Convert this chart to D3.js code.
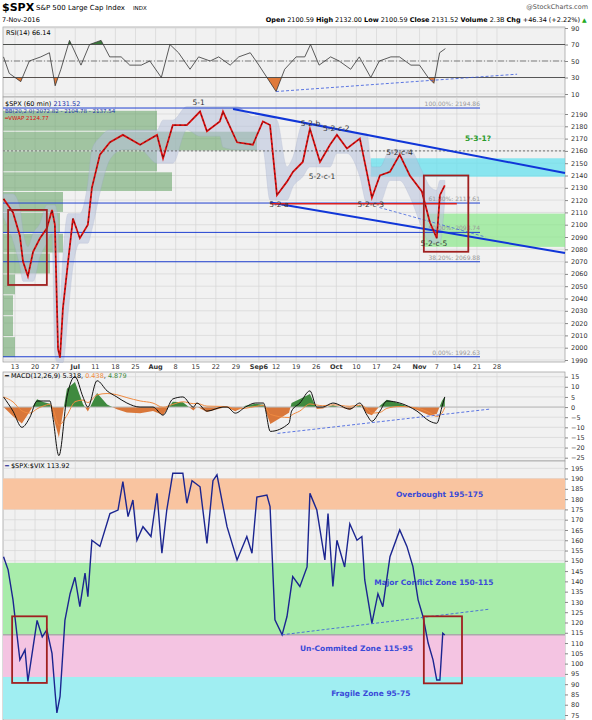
<!DOCTYPE html>
<html>
<head>
<meta charset="utf-8">
<script src="https://cdn.jsdelivr.net/npm/d3@7"></script>
<style>
  body { margin: 0; background: #fff; font-family: "DejaVu Sans", sans-serif; }
  text { font-family: "DejaVu Sans", sans-serif; }
</style>
</head>
<body>
<div id="chart"></div>
<script>
// x positions are calendar days counted from Mon 13-Jun-2016
const tickDays = [0, 7, 14, 21, 28, 35, 42, 49, 56, 63, 70, 77, 85, 91, 98, 105, 112, 119, 126, 133, 141, 147, 154, 161, 168];
const tickLabels = ["13", "20", "27", "Jul", "11", "18", "25", "Aug", "8", "15", "22", "29", "Sep6", "12", "19", "26", "Oct", "10", "17", "24", "Nov", "7", "14", "21", "28"];

// RSI(14)
const rsiDay = [-4, -2, 2, 5, 9, 12, 14, 16, 19, 23, 26, 30, 33, 37, 40, 44, 47, 51, 54, 57, 61, 64, 68, 71, 75, 78, 82, 85, 91, 94, 98, 101, 103, 106, 110, 113, 117, 120, 124, 127, 131, 134, 138, 141, 144, 146, 148, 150];
const rsiVal = [55, 35, 25, 50, 55, 60, 20, 40, 75, 45, 70, 75, 55, 55, 45, 45, 50, 30, 70, 60, 40, 55, 50, 55, 45, 55, 60, 45, 13, 40, 55, 55, 70, 45, 55, 50, 40, 55, 30, 50, 55, 55, 45, 45, 30, 23, 60, 65];

// $SPX 60 min
const spxDay = [-4, -0.7, 1.7, 2.8, 4.5, 6.3, 8.7, 11.1, 12.9, 13.9, 15, 15.7, 16.7, 18.5, 20.2, 22.6, 25.4, 26.8, 29.6, 33.1, 37.6, 43.6, 49.5, 51.6, 55, 59.9, 64.5, 66.9, 71.4, 72.5, 77.4, 82.9, 86.4, 88.9, 91.3, 94.8, 96.9, 100.3, 102.8, 106.3, 109.8, 112.2, 115.7, 120.2, 122.6, 124.4, 127.2, 130.7, 134.1, 137.6, 141.8, 144.6, 147, 148.1, 149.8];
const spxVal = [2121, 2110, 2091, 2070, 2058, 2078, 2089, 2097, 2112, 2100, 1999, 1992, 2032, 2070, 2105, 2089, 2100, 2130, 2157, 2167, 2173, 2165, 2173, 2154, 2181, 2181, 2192, 2176, 2184, 2192, 2167, 2165, 2184, 2181, 2124, 2135, 2143, 2151, 2178, 2151, 2165, 2173, 2162, 2170, 2143, 2122, 2140, 2143, 2157, 2140, 2127, 2102, 2089, 2124, 2132];

// volume by price: bucket low, bucket high, relative volume
const vbpLow = [2176, 2160, 2143, 2127, 2110, 2093, 2077, 2060, 2043, 2026, 2009, 1992];
const vbpHigh = [2193, 2176, 2160, 2143, 2127, 2110, 2093, 2077, 2060, 2043, 2026, 2009];
const vbpVol = [154, 254, 154, 169, 60, 57, 60, 47, 12, 10, 10, 12];

// Fibonacci retracement levels
const fibLevels = [2194.86, 2117.61, 2093.74, 2069.88, 1992.63];
const fibLabels = ["100.00%: 2194.86", "61.80%: 2117.61", "50.00%: 2093.74", "38.20%: 2069.88", "0.00%: 1992.63"];

// wave labels
const waveNames = ["5-1", "5-2-b", "5-2-c-2", "5-2-c-1", "5-2-a", "5-2-c-3", "5-2-c-4", "5-2-c-5"];
const waveDays = [64, 103, 112, 107, 92, 124, 134, 146];
const wavePrice = [2197, 2180, 2176, 2137, 2114, 2114, 2157, 2083];

// MACD(12,26,9)
const macdDay = [-4, -0.7, 2.4, 5.2, 7.7, 9.8, 12.2, 13.2, 15.3, 18.1, 20.9, 23.7, 25.4, 28.6, 32.1, 35.5, 39, 43.6, 48.1, 51.6, 55, 58.5, 62.2, 63.4, 66.9, 72.5, 73.9, 76.8, 80.3, 83.8, 86.6, 89, 95.5, 96.4, 99.3, 102.8, 105.2, 107.3, 110.8, 116.7, 120.2, 122.7, 124.4, 127.2, 129.6, 134.1, 140.1, 144.6, 147, 148.8, 149.8];
const macdVal = [5, -2, -10, -5, 3, 3, 3, -5, -24, 5, 15, 5, 0, 13, 8, 5, 2, 0, 0, -4, 4, 5, 0, 2, -2, 0, 0, -3, 0, 2, 2, -12, -8, -2, 2, 8, 0, 0, 2, -1, 2, -4, -7, -2, 3, 2, -2, -7, -8, 0, 5];

// $SPX:$VIX ratio
const ratioDay = [-4, -2.4, -0.7, 1.7, 3.5, 4.5, 6.3, 7.7, 9.5, 11.1, 12.9, 14, 14.6, 15.7, 17.4, 19.2, 20.9, 22.6, 24.4, 25.4, 26.8, 29.6, 33.1, 35.9, 37.6, 39.4, 41.1, 42.5, 44.6, 47.4, 49.5, 51.2, 52.9, 55, 58.5, 59.9, 61.7, 64.5, 66.9, 69, 70.4, 73.9, 77.4, 80.8, 82.6, 84.3, 87.8, 88.9, 90.6, 93.1, 94.8, 96.8, 99.3, 101.8, 102.8, 105.2, 108, 109.1, 110.8, 112.2, 114.9, 116.7, 119.2, 120.9, 121.9, 124.4, 126.5, 128.2, 130.7, 134.1, 136.6, 138.7, 140.5, 142.2, 144, 145.7, 147, 148.1, 149.1, 149.8];
const ratioVal = [152, 145.6, 131, 101.8, 106.7, 91.3, 108, 121, 113, 116.4, 105, 85.6, 76, 84, 121, 134, 142, 127.7, 144, 132.6, 160, 157, 173, 174.7, 188.5, 171.5, 179.6, 160, 166.6, 161.8, 182.8, 153.7, 174.7, 192.6, 192.6, 178, 189, 186, 158.5, 189, 191.8, 166.6, 150.4, 161.8, 153.7, 181, 182, 176.4, 121.3, 114, 122.9, 142.3, 137.5, 147, 182.8, 174.7, 150.4, 173, 137.5, 160, 147, 168, 160, 161.8, 140.7, 119.6, 134, 127.7, 152, 165, 157, 147.2, 131, 122.9, 110, 101.8, 92, 92, 114.8, 113.9];

// ratio zones: low, high, colour, label
const zoneLow = [175, 114, 93.5, 73];
const zoneHigh = [190, 149, 114, 93.5];
const zoneColor = ["#f9c4a0", "#a8ecaa", "#f4c4e2", "#a0eef2"];
const zoneLabel = ["Overbought 195-175", "Major Conflict Zone 150-115", "Un-Commited Zone 115-95", "Fragile Zone 95-75"];
const zoneLabelDay = [148, 146, 119, 124];
const zoneLabelVal = [181, 138, 106, 84];

const W = 592, H = 720, left = 3, right = 565;
const svg = d3.select("#chart").append("svg").attr("width", W).attr("height", H);

const x = d3.scaleLinear().domain([0, 168]).range([15, 497]);

// header
svg.append("text").attr("x", 2).attr("y", 11).attr("font-size", 11).attr("font-weight", "bold").text("$SPX");
svg.append("text").attr("x", 36).attr("y", 10).attr("font-size", 7).text("S&P 500 Large Cap Index");
svg.append("text").attr("x", 133).attr("y", 10).attr("font-size", 5.5).text("INDX");
svg.append("text").attr("x", 588).attr("y", 9).attr("font-size", 6.5).attr("text-anchor", "end").attr("fill", "#555").text("@StockCharts.com");
svg.append("text").attr("x", 2).attr("y", 22).attr("font-size", 6.5).text("7-Nov-2016");
svg.append("text").attr("x", 580).attr("y", 22).attr("font-size", 6.5).attr("text-anchor", "end")
  .html('<tspan font-weight="bold">Open</tspan> 2100.59 <tspan font-weight="bold">High</tspan> 2132.00 <tspan font-weight="bold">Low</tspan> 2100.59 <tspan font-weight="bold">Close</tspan> 2131.52 <tspan font-weight="bold">Volume</tspan> 2.3B <tspan font-weight="bold">Chg</tspan> +46.34 (+2.22%)');
svg.append("text").attr("x", 582).attr("y", 22).attr("font-size", 6).attr("fill", "#2a2").text("▲");

// panel helper: background, grid and right axis
function panel(y0, y1, y, ticks) {
  const g = svg.append("g");
  g.append("rect").attr("x", left).attr("y", y0).attr("width", right - left).attr("height", y1 - y0)
    .attr("fill", "#f1f1f1").attr("stroke", "#999").attr("stroke-width", 0.7);
  g.selectAll(".vg").data(tickDays).join("line")
    .attr("x1", d => x(d)).attr("x2", d => x(d)).attr("y1", y0).attr("y2", y1)
    .attr("stroke", "#d6d6d6").attr("stroke-width", 0.7);
  g.selectAll(".hg").data(ticks).join("line")
    .attr("x1", left).attr("x2", right).attr("y1", d => y(d)).attr("y2", d => y(d))
    .attr("stroke", "#d6d6d6").attr("stroke-width", 0.7);
  const ax = g.append("g").attr("transform", `translate(${right},0)`)
    .call(d3.axisRight(y).tickValues(ticks).tickSize(3).tickFormat(d3.format("d")));
  ax.select(".domain").remove();
  ax.selectAll("text").attr("font-size", 6.5).attr("fill", "#333");
  ax.selectAll("line").attr("stroke", "#888");
  return g;
}

// ---- RSI panel ----
const yR = d3.scaleLinear().domain([10, 90]).range([94, 28]);
panel(27, 97, yR, [10, 30, 50, 70, 90]);
const rsiData = rsiDay.map((d, i) => ({ d, v: rsiVal[i] }));
svg.append("clipPath").attr("id", "cHi").append("rect").attr("x", left).attr("y", 27).attr("width", right).attr("height", yR(70) - 27);
svg.append("clipPath").attr("id", "cLo").append("rect").attr("x", left).attr("y", yR(30)).attr("width", right).attr("height", 97 - yR(30));
svg.append("path").datum(rsiData).attr("clip-path", "url(#cHi)").attr("fill", "#3c7a3c")
  .attr("d", d3.area().x(d => x(d.d)).y0(yR(70)).y1(d => yR(d.v)));
svg.append("path").datum(rsiData).attr("clip-path", "url(#cLo)").attr("fill", "#e07a3a")
  .attr("d", d3.area().x(d => x(d.d)).y0(yR(30)).y1(d => yR(d.v)));
[70, 30].forEach(v => svg.append("line").attr("x1", left).attr("x2", right).attr("y1", yR(v)).attr("y2", yR(v)).attr("stroke", "#333").attr("stroke-width", 0.8));
svg.append("line").attr("x1", left).attr("x2", right).attr("y1", yR(50)).attr("y2", yR(50)).attr("stroke", "#555").attr("stroke-dasharray", "6,2,1,2").attr("stroke-width", 0.7);
svg.append("path").datum(rsiData).attr("fill", "none").attr("stroke", "#333").attr("stroke-width", 0.8)
  .attr("d", d3.line().x(d => x(d.d)).y(d => yR(d.v)));
svg.append("line").attr("x1", x(91)).attr("y1", yR(13)).attr("x2", x(175)).attr("y2", yR(34))
  .attr("stroke", "#3355dd").attr("stroke-dasharray", "3,2").attr("stroke-width", 0.8);
svg.append("text").attr("x", 6).attr("y", 35).attr("font-size", 6.5).text("RSI(14) 66.14");

// ---- price panel ----
const yP = d3.scaleLinear().domain([1990, 2190]).range([360, 114]);
panel(97, 362, yP, d3.range(1990, 2191, 10));

// volume by price
svg.selectAll(".vbp").data(vbpVol).join("rect")
  .attr("x", left).attr("y", (d, i) => yP(vbpHigh[i]) + 0.5).attr("width", d => d)
  .attr("height", (d, i) => yP(vbpLow[i]) - yP(vbpHigh[i]) - 1)
  .attr("fill", "#5f9e5f").attr("opacity", 0.55);

// shaded zones
svg.append("rect").attr("x", x(124)).attr("y", yP(2154)).attr("width", right - x(124)).attr("height", yP(2139) - yP(2154)).attr("fill", "#66e0ee").attr("opacity", 0.75);
svg.append("rect").attr("x", x(142)).attr("y", yP(2109)).attr("width", right - x(142)).attr("height", yP(2082) - yP(2109)).attr("fill", "#8ae88a").attr("opacity", 0.7);

// Bollinger-like envelope from neighbouring highs/lows of the price
const spx = spxDay.map((d, i) => ({ d, v: spxVal[i] }));
const env = spx.map((p, i) => {
  const w = spx.slice(Math.max(0, i - 1), i + 2).map(q => q.v);
  return { d: p.d, hi: d3.max(w) + 4, lo: d3.min(w) - 4 };
});
svg.append("path").datum(env).attr("fill", "#b8c2dc").attr("opacity", 0.55).attr("stroke", "#9aa6c8").attr("stroke-width", 0.5)
  .attr("d", d3.area().curve(d3.curveMonotoneX).x(d => x(d.d)).y0(d => yP(d.lo)).y1(d => yP(d.hi)));

// fib lines
svg.selectAll(".fib").data(fibLevels).join("line")
  .attr("x1", left).attr("x2", 480).attr("y1", d => yP(d)).attr("y2", d => yP(d))
  .attr("stroke", "#2040d0").attr("stroke-width", 1);
svg.selectAll(".fibt").data(fibLabels).join("text")
  .attr("x", 480).attr("y", (d, i) => yP(fibLevels[i]) - 2).attr("text-anchor", "end")
  .attr("font-size", 6).attr("fill", "#999").text(d => d);
svg.append("line").attr("x1", left).attr("x2", right).attr("y1", yP(2160)).attr("y2", yP(2160))
  .attr("stroke", "#555").attr("stroke-dasharray", "2,2").attr("stroke-width", 0.8);

// channel
svg.append("line").attr("x1", x(76)).attr("y1", yP(2194)).attr("x2", right).attr("y2", yP(2142)).attr("stroke", "#1036d8").attr("stroke-width", 2);
svg.append("line").attr("x1", x(89)).attr("y1", yP(2118)).attr("x2", right).attr("y2", yP(2077)).attr("stroke", "#1036d8").attr("stroke-width", 2);
svg.append("line").attr("x1", x(89)).attr("y1", yP(2117)).attr("x2", x(154)).attr("y2", yP(2117)).attr("stroke", "#dd2020").attr("stroke-width", 1.5);
svg.append("line").attr("x1", x(127)).attr("y1", yP(2114)).attr("x2", x(164)).attr("y2", yP(2090)).attr("stroke", "#4466dd").attr("stroke-dasharray", "3,2").attr("stroke-width", 0.8);

// price line
const pLine = d3.line().x(d => x(d.d)).y(d => yP(d.v));
svg.append("path").datum(spx).attr("fill", "none").attr("stroke", "#e01010").attr("stroke-width", 1.8).attr("d", pLine);
svg.append("path").datum(spx).attr("fill", "none").attr("stroke", "#111").attr("stroke-width", 0.6).attr("stroke-dasharray", "2,3").attr("d", pLine);

// red boxes
svg.append("rect").attr("x", x(-2.4)).attr("y", yP(2112)).attr("width", x(11.1) - x(-2.4)).attr("height", yP(2051) - yP(2112)).attr("fill", "none").attr("stroke", "#a02020").attr("stroke-width", 1.8);
svg.append("rect").attr("x", x(142.5)).attr("y", yP(2140)).attr("width", x(158) - x(142.5)).attr("height", yP(2078) - yP(2140)).attr("fill", "none").attr("stroke", "#a02020").attr("stroke-width", 1.8);

// wave labels
svg.selectAll(".wave").data(waveNames).join("text")
  .attr("x", (d, i) => x(waveDays[i])).attr("y", (d, i) => yP(wavePrice[i])).attr("text-anchor", "middle")
  .attr("font-size", 7.5).attr("fill", "#333").text(d => d);
svg.append("text").attr("x", 478).attr("y", yP(2168)).attr("text-anchor", "middle").attr("font-size", 7.5).attr("font-weight", "bold").attr("fill", "#2a9a2a").text("5-3-1?");

// legend
svg.append("text").attr("x", 5).attr("y", 106).attr("font-size", 6.5).html('$SPX (60 min) <tspan fill="#2233aa">2131.52</tspan>');
svg.append("text").attr("x", 5).attr("y", 113).attr("font-size", 5.5).attr("fill", "#2233aa").text("BB(20,2.0) 2072.82 - 2104.78 - 2137.54");
svg.append("text").attr("x", 5).attr("y", 120).attr("font-size", 5.5).attr("fill", "#dd1010").text("━VWAP 2124.77");

// date axis
svg.selectAll(".dl").data(tickLabels).join("text")
  .attr("x", (d, i) => x(tickDays[i])).attr("y", 369).attr("text-anchor", "middle")
  .attr("font-size", 6.5).attr("fill", "#333").attr("font-weight", d => isNaN(+d) ? "bold" : "normal").text(d => d);

// ---- MACD panel ----
const yM = d3.scaleLinear().domain([-25, 15]).range([457.7, 376.7]);
panel(372, 461, yM, d3.range(-25, 16, 5));
const macd = macdDay.map((d, i) => ({ d, v: macdVal[i] }));
let s = macd[0].v;
macd.forEach(p => { s = s + 0.35 * (p.v - s); p.sig = s; p.h = p.v - s; });
svg.append("clipPath").attr("id", "mUp").append("rect").attr("x", left).attr("y", 372).attr("width", right).attr("height", yM(0) - 372);
svg.append("clipPath").attr("id", "mDn").append("rect").attr("x", left).attr("y", yM(0)).attr("width", right).attr("height", 461 - yM(0));
const hArea = d3.area().x(d => x(d.d)).y0(yM(0)).y1(d => yM(d.h));
svg.append("path").datum(macd).attr("clip-path", "url(#mUp)").attr("fill", "#3f8a3f").attr("d", hArea);
svg.append("path").datum(macd).attr("clip-path", "url(#mDn)").attr("fill", "#d9773a").attr("d", hArea);
svg.append("line").attr("x1", left).attr("x2", right).attr("y1", yM(0)).attr("y2", yM(0)).attr("stroke", "#bbb");
svg.append("path").datum(macd).attr("fill", "none").attr("stroke", "#f08a40").attr("stroke-width", 1)
  .attr("d", d3.line().curve(d3.curveMonotoneX).x(d => x(d.d)).y(d => yM(d.sig)));
svg.append("path").datum(macd).attr("fill", "none").attr("stroke", "#111").attr("stroke-width", 1)
  .attr("d", d3.line().curve(d3.curveMonotoneX).x(d => x(d.d)).y(d => yM(d.v)));
svg.append("line").attr("x1", x(91.5)).attr("y1", yM(-13)).attr("x2", x(165.5)).attr("y2", yM(-1))
  .attr("stroke", "#3355dd").attr("stroke-dasharray", "3,2").attr("stroke-width", 0.8);
svg.append("text").attr("x", 5).attr("y", 378).attr("font-size", 6.5)
  .html('━ MACD(12,26,9) 5.318, <tspan fill="#f08a40">0.438</tspan>, <tspan fill="#3f8a3f">4.879</tspan>');

// ---- ratio panel ----
const yV = d3.scaleLinear().domain([75, 195]).range([715, 468.3]);
panel(461, 720, yV, d3.range(75, 196, 5));
svg.selectAll(".zone").data(zoneLow).join("rect")
  .attr("x", left).attr("y", (d, i) => yV(zoneHigh[i])).attr("width", right - left)
  .attr("height", (d, i) => yV(d) - yV(zoneHigh[i])).attr("fill", (d, i) => zoneColor[i]);
svg.append("line").attr("x1", left).attr("x2", right).attr("y1", yV(114)).attr("y2", yV(114)).attr("stroke", "#aaa").attr("stroke-width", 1.5);
svg.selectAll(".zl").data(zoneLabel).join("text")
  .attr("x", (d, i) => x(zoneLabelDay[i])).attr("y", (d, i) => yV(zoneLabelVal[i]))
  .attr("text-anchor", "middle").attr("font-size", 7.5).attr("font-weight", "bold").attr("fill", "#3a4ad8").text(d => d);
const ratio = ratioDay.map((d, i) => ({ d, v: ratioVal[i] }));
svg.append("path").datum(ratio).attr("fill", "none").attr("stroke", "#1b2590").attr("stroke-width", 1.4)
  .attr("d", d3.line().x(d => x(d.d)).y(d => yV(d.v)));
svg.append("line").attr("x1", x(93)).attr("y1", yV(114)).attr("x2", x(165.5)).attr("y2", yV(126.5))
  .attr("stroke", "#3355dd").attr("stroke-dasharray", "3,2").attr("stroke-width", 0.8);
svg.append("rect").attr("x", x(-1)).attr("y", yV(123)).attr("width", x(11.1) - x(-1)).attr("height", yV(90.6) - yV(123)).attr("fill", "none").attr("stroke", "#a02020").attr("stroke-width", 1.8);
svg.append("rect").attr("x", x(142.5)).attr("y", yV(123)).attr("width", x(155.8) - x(142.5)).attr("height", yV(90.4) - yV(123)).attr("fill", "none").attr("stroke", "#a02020").attr("stroke-width", 1.8);
svg.append("text").attr("x", 5).attr("y", 468).attr("font-size", 6.5).html('<tspan fill="#1b2590">━</tspan> $SPX:$VIX 113.92');
</script>
</body>
</html>
